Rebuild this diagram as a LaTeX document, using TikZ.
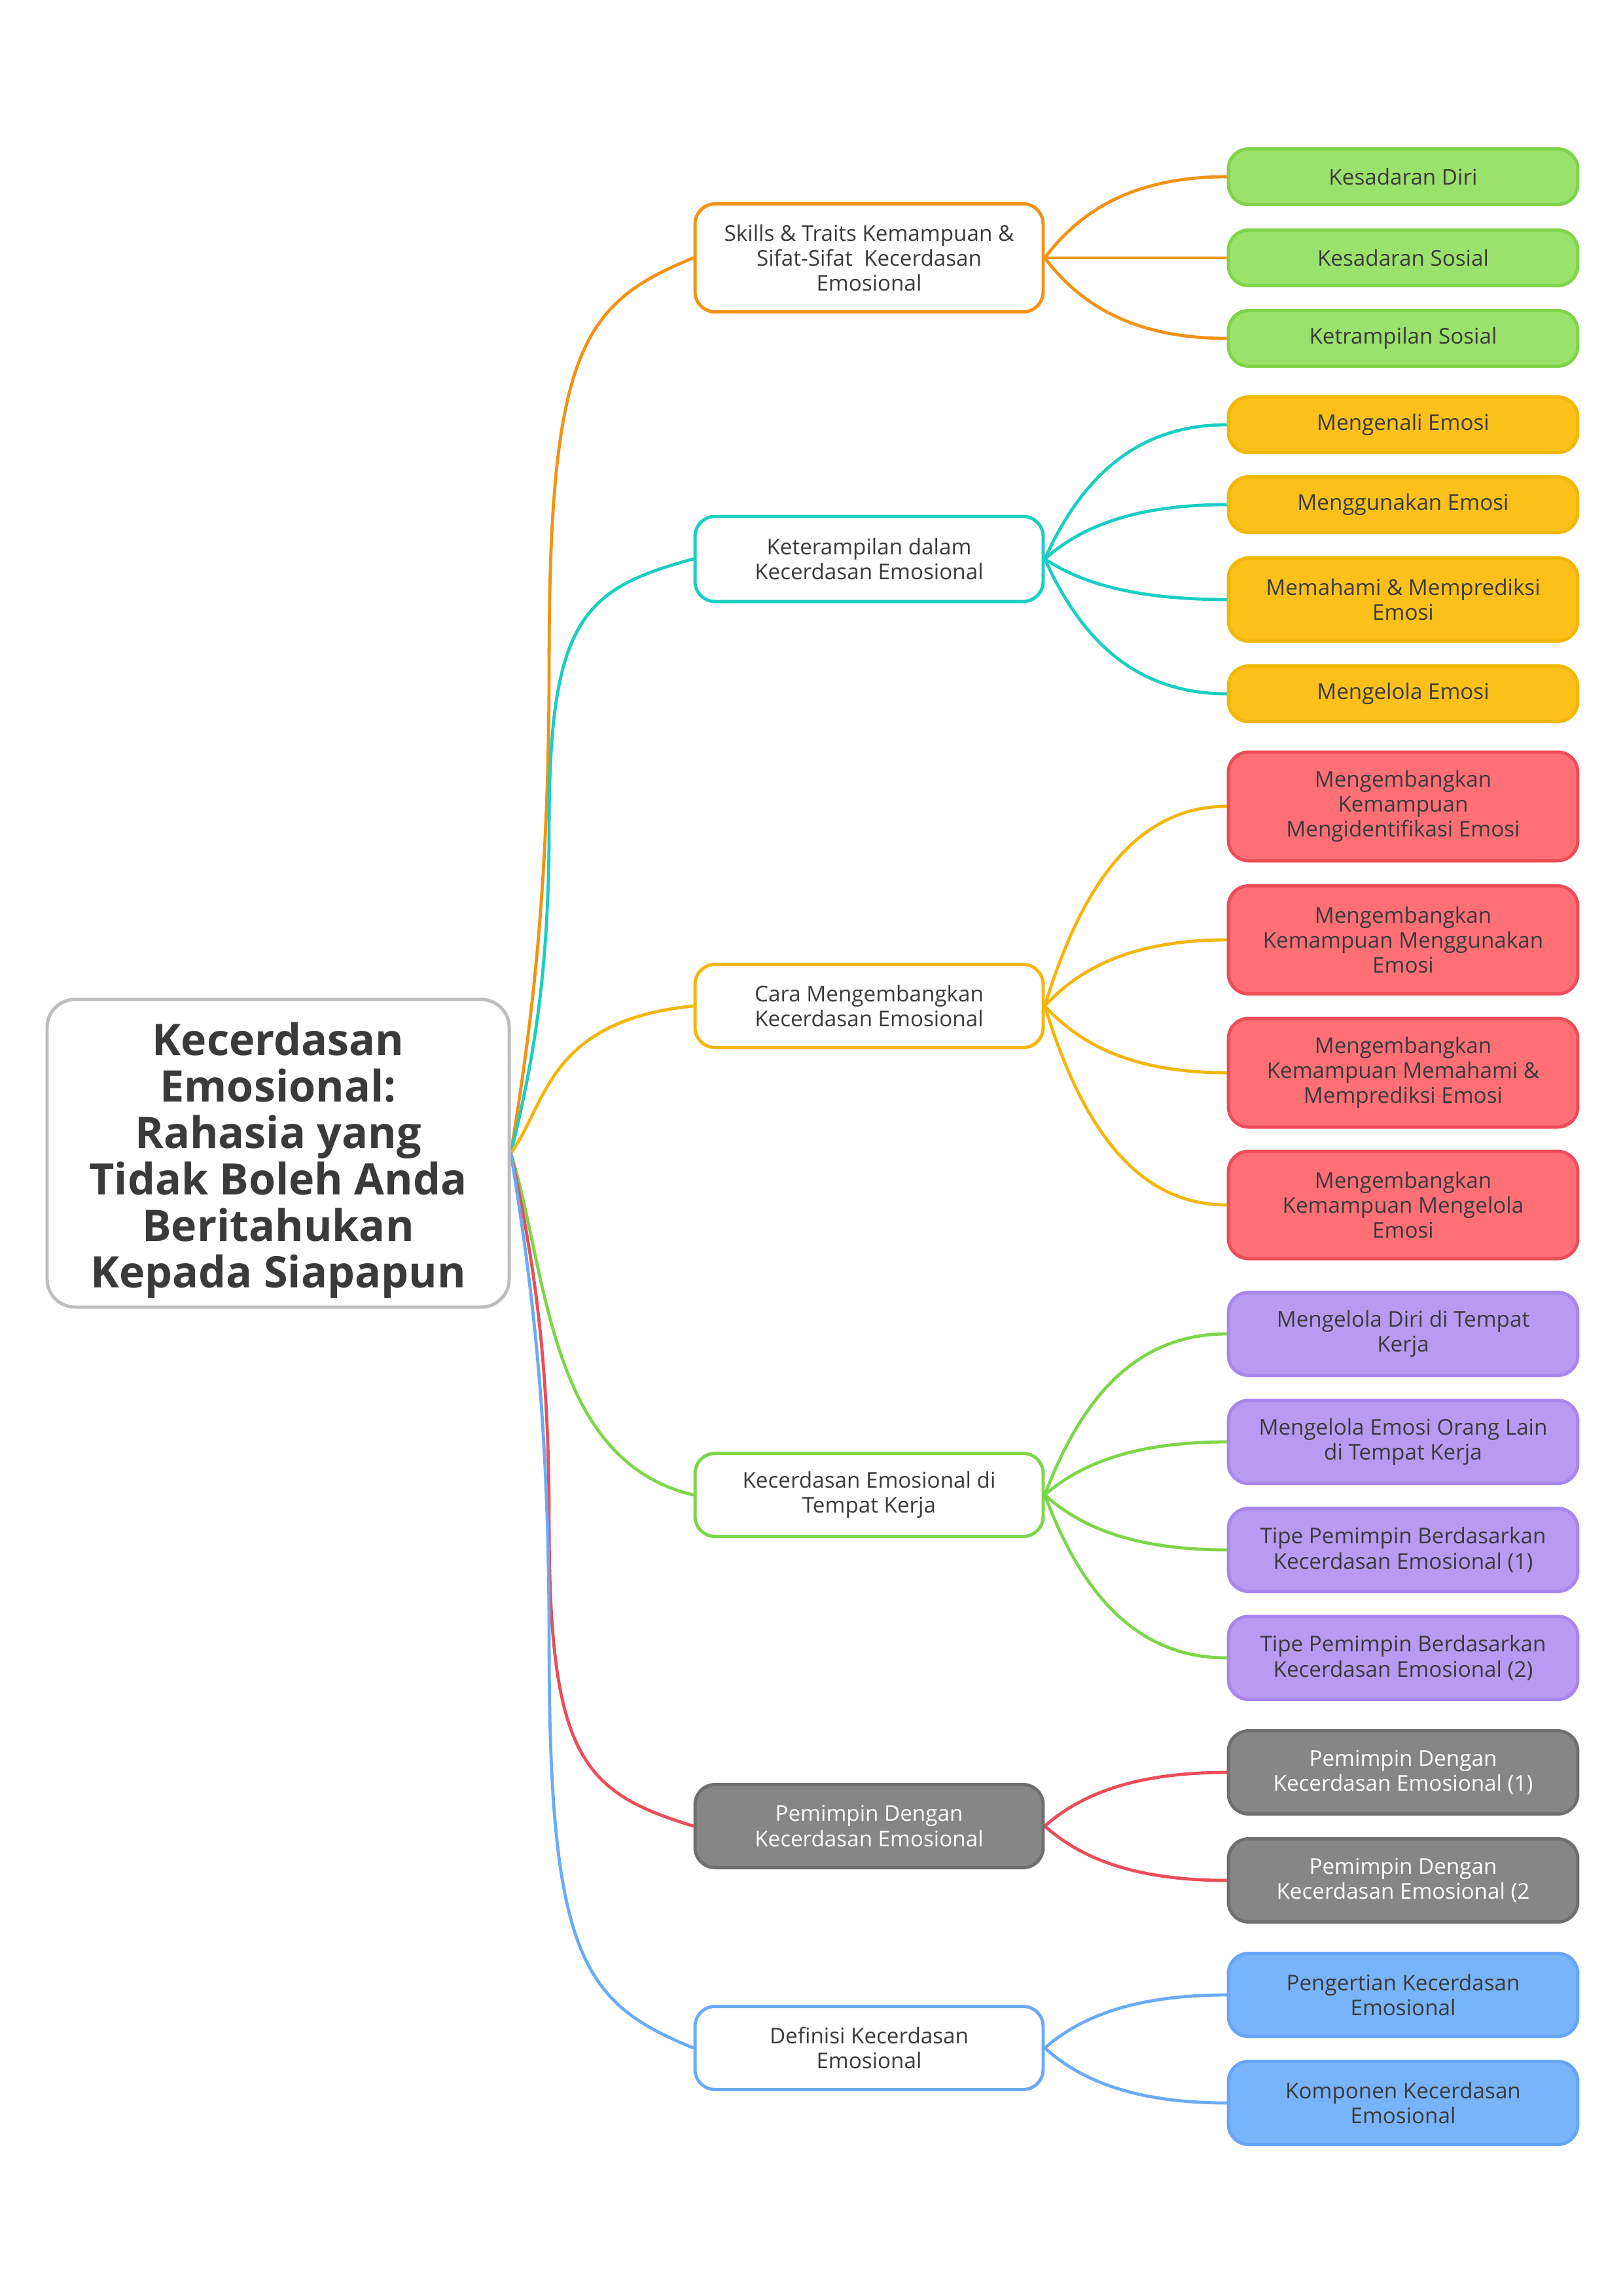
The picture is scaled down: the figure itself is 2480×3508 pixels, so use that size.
\documentclass[tikz,border=0pt]{standalone}
\usepackage{fontspec}
\setmainfont{Open Sans}
\usetikzlibrary{calc}
\pgfdeclarelayer{bg}
\pgfsetlayers{bg,main}
\definecolor{txt}{HTML}{3A3A3A}
\definecolor{rootline}{HTML}{BDBDBD}
\definecolor{corange}{HTML}{F39214}
\definecolor{cteal}{HTML}{19CEC2}
\definecolor{cyellow}{HTML}{F4B60A}
\definecolor{cgreen}{HTML}{7DD649}
\definecolor{cred}{HTML}{EC4D58}
\definecolor{cblue}{HTML}{6AABF7}
\definecolor{gfill}{HTML}{9BE26D}
\definecolor{gdraw}{HTML}{7FD44A}
\definecolor{yfill}{HTML}{FBC01A}
\definecolor{ydraw}{HTML}{F2B705}
\definecolor{rfill}{HTML}{FF6F76}
\definecolor{rdraw}{HTML}{EC4D58}
\definecolor{pfill}{HTML}{B89AF2}
\definecolor{pdraw}{HTML}{A886EE}
\definecolor{kfill}{HTML}{868686}
\definecolor{kdraw}{HTML}{6F6F6F}
\definecolor{bfill}{HTML}{79B4FB}
\definecolor{bdraw}{HTML}{67A6F6}
\newcommand\mmlink[7]{%
  \draw[#1] let \p1=(#2), \p2=(#3) in (\p1) .. controls ({\x1+#4*(\x2-\x1)},{\y1+#5*(\y2-\y1)}) and ({\x1+#6*(\x2-\x1)},{\y1+#7*(\y2-\y1)}) .. (\p2);}
\newcommand\rootlink[3]{\mmlink{link,#1}{#2}{#3}{0.2}{0.34}{0.2}{0.9}}
\newcommand\leaflink[3]{\mmlink{link,#1}{#2}{#3}{0.2}{0.6}{0.5}{1}}
\newcommand\longlink[3]{%
  \draw[link,#1] let \p1=(#2), \p2=(#3) in (\p1)
    .. controls ({\x1+0.12*(\x2-\x1)},{\y1+0.15*(\y2-\y1)}) and ({\x1+0.21*(\x2-\x1)},{\y1+0.3*(\y2-\y1)})
    .. ({\x1+0.21*(\x2-\x1)},{\y1+0.55*(\y2-\y1)})
    .. controls ({\x1+0.21*(\x2-\x1)},{\y1+0.9*(\y2-\y1)}) and ({\x1+0.4*(\x2-\x1)},{\y1+0.95*(\y2-\y1)})
    .. (\p2);}
\begin{document}
\begin{tikzpicture}[x=0.0846667mm,y=-0.0846667mm,
  box/.style={rectangle, rounded corners=2.6mm, line width=1.2pt, align=center, inner sep=0pt,
    font=\fontsize{8}{9.2}\selectfont, text=txt},
  mid/.style={box, draw=#1, fill=white, minimum width=45.04mm},
  leaf/.style 2 args={box, fill=#1, draw=#2, minimum width=45.2mm},
  h/.style={minimum height=#1*0.0846667mm},
  link/.style={line width=1.15pt, line cap=round}]
\useasboundingbox (0,0) rectangle (2480,3508);

% root
\node[box, draw=rootline, fill=white, minimum width=706*0.0846667mm, h=470, rounded corners=3.6mm] (root) at (425,1762) {};
\node[align=center, inner sep=0pt, text=txt, font=\fontsize{16}{17.1}\selectfont\bfseries] (roottitle) at (425,1773)
  {Kecerdasan\\Emosional:\\Rahasia yang\\Tidak Boleh Anda\\Beritahukan\\Kepada Siapapun};

% main topics
\node[mid=corange, h=165] (m1) at (1328,394) {Skills \& Traits Kemampuan \&\\Sifat-Sifat\ \ Kecerdasan\\Emosional};
\node[mid=cteal, h=130] (m2) at (1328,854) {Keterampilan dalam\\Kecerdasan Emosional};
\node[mid=cyellow, h=127] (m3) at (1328,1537) {Cara Mengembangkan\\Kecerdasan Emosional};
\node[mid=cgreen, h=127] (m4) at (1328,2284) {Kecerdasan Emosional di\\Tempat Kerja};
\node[box, draw=kdraw, fill=kfill, text=white, minimum width=45.04mm, h=127] (m5) at (1328,2790) {Pemimpin Dengan\\Kecerdasan Emosional};
\node[mid=cblue, h=127] (m6) at (1328,3129) {Definisi Kecerdasan\\Emosional};

% leaves: green
\node[leaf={gfill}{gdraw}, h=85] (g1) at (2144,270) {Kesadaran Diri};
\node[leaf={gfill}{gdraw}, h=85] (g2) at (2144,394) {Kesadaran Sosial};
\node[leaf={gfill}{gdraw}, h=85] (g3) at (2144,517) {Ketrampilan Sosial};
% yellow
\node[leaf={yfill}{ydraw}, h=85] (y1) at (2144,649) {Mengenali Emosi};
\node[leaf={yfill}{ydraw}, h=85] (y2) at (2144,771) {Menggunakan Emosi};
\node[leaf={yfill}{ydraw}, h=127] (y3) at (2144,916) {Memahami \& Memprediksi\\Emosi};
\node[leaf={yfill}{ydraw}, h=85] (y4) at (2144,1060) {Mengelola Emosi};
% red
\node[leaf={rfill}{rdraw}, h=166] (r1) at (2144,1232) {Mengembangkan\\Kemampuan\\Mengidentifikasi Emosi};
\node[leaf={rfill}{rdraw}, h=165] (r2) at (2144,1436) {Mengembangkan\\Kemampuan Menggunakan\\Emosi};
\node[leaf={rfill}{rdraw}, h=166] (r3) at (2144,1639) {Mengembangkan\\Kemampuan Memahami \&\\Memprediksi Emosi};
\node[leaf={rfill}{rdraw}, h=164] (r4) at (2144,1841) {Mengembangkan\\Kemampuan Mengelola\\Emosi};
% purple
\node[leaf={pfill}{pdraw}, h=127] (p1) at (2144,2038) {Mengelola Diri di Tempat\\Kerja};
\node[leaf={pfill}{pdraw}, h=127] (p2) at (2144,2203) {Mengelola Emosi Orang Lain\\di Tempat Kerja};
\node[leaf={pfill}{pdraw}, h=127] (p3) at (2144,2368) {Tipe Pemimpin Berdasarkan\\Kecerdasan Emosional (1)};
\node[leaf={pfill}{pdraw}, h=127] (p4) at (2144,2533) {Tipe Pemimpin Berdasarkan\\Kecerdasan Emosional (2)};
% gray
\node[leaf={kfill}{kdraw}, text=white, h=127] (k1) at (2144,2708) {Pemimpin Dengan\\Kecerdasan Emosional (1)};
\node[leaf={kfill}{kdraw}, text=white, h=127] (k2) at (2144,2873) {Pemimpin Dengan\\Kecerdasan Emosional (2};
% blue
\node[leaf={bfill}{bdraw}, h=127] (b1) at (2144,3048) {Pengertian Kecerdasan\\Emosional};
\node[leaf={bfill}{bdraw}, h=127] (b2) at (2144,3213) {Komponen Kecerdasan\\Emosional};

\begin{pgfonlayer}{bg}
\fill[white] (0,0) rectangle (2480,3508);
\longlink{corange}{root.east}{m1.west}
\longlink{cteal}{root.east}{m2.west}
\rootlink{cyellow}{root.east}{m3.west}
\rootlink{cgreen}{root.east}{m4.west}
\longlink{cred}{root.east}{m5.west}
\longlink{cblue}{root.east}{m6.west}
\leaflink{corange}{m1.east}{g1.west}
\leaflink{corange}{m1.east}{g2.west}
\leaflink{corange}{m1.east}{g3.west}
\leaflink{cteal}{m2.east}{y1.west}
\leaflink{cteal}{m2.east}{y2.west}
\leaflink{cteal}{m2.east}{y3.west}
\leaflink{cteal}{m2.east}{y4.west}
\leaflink{cyellow}{m3.east}{r1.west}
\leaflink{cyellow}{m3.east}{r2.west}
\leaflink{cyellow}{m3.east}{r3.west}
\leaflink{cyellow}{m3.east}{r4.west}
\leaflink{cgreen}{m4.east}{p1.west}
\leaflink{cgreen}{m4.east}{p2.west}
\leaflink{cgreen}{m4.east}{p3.west}
\leaflink{cgreen}{m4.east}{p4.west}
\leaflink{cred}{m5.east}{k1.west}
\leaflink{cred}{m5.east}{k2.west}
\leaflink{cblue}{m6.east}{b1.west}
\leaflink{cblue}{m6.east}{b2.west}
\end{pgfonlayer}
\end{tikzpicture}
\end{document}
